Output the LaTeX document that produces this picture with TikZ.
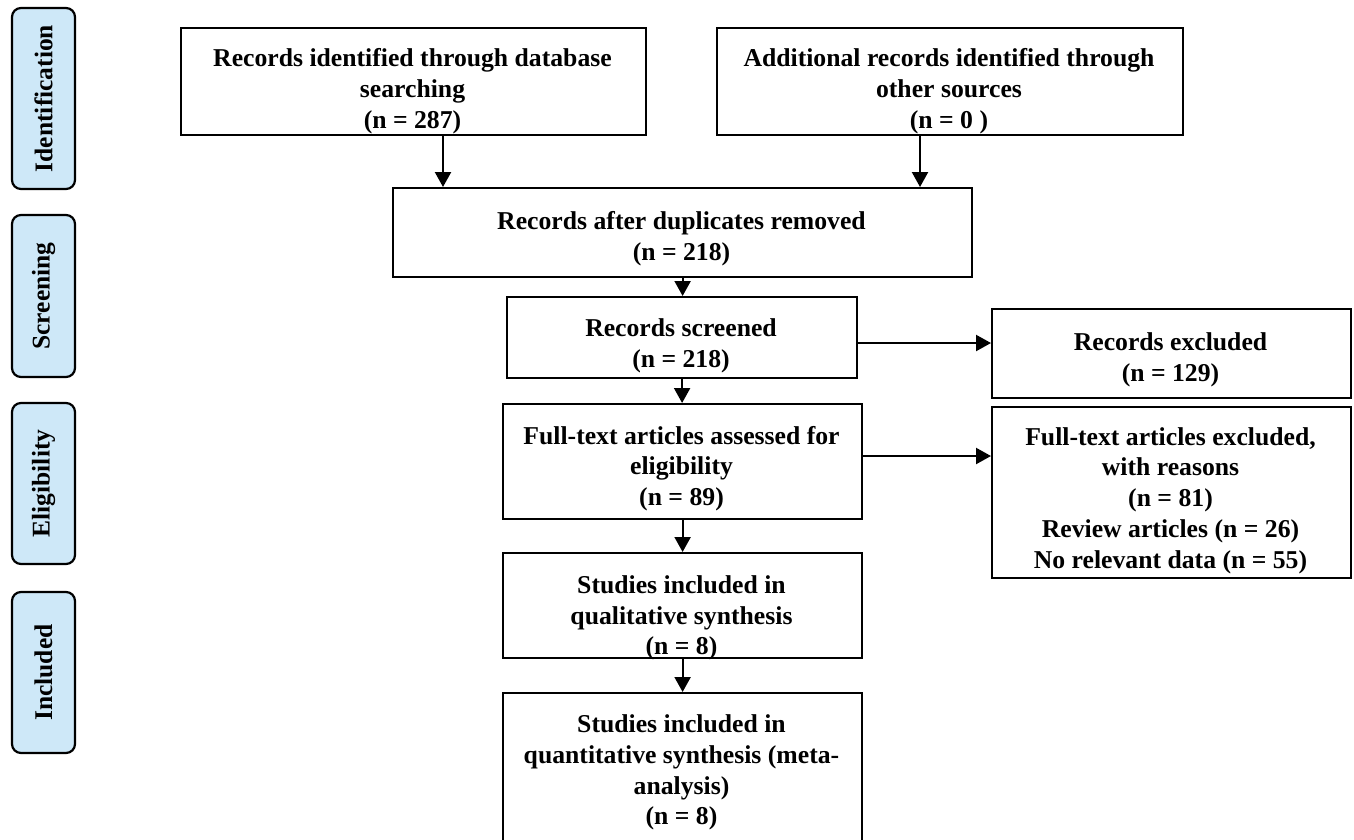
\documentclass[tikz,border=0pt]{standalone}
\usepackage{fontspec}
\setmainfont{Liberation Serif}
\usetikzlibrary{arrows.meta}
\definecolor{stagefill}{RGB}{206,232,248}
\begin{document}
\begin{tikzpicture}[x=1pt,y=-1pt,
  box/.style={draw,line width=2.2pt,inner sep=0pt,anchor=north west},
  txt/.style={font=\bfseries\fontsize{25.7}{30.8}\selectfont,align=center,inner sep=0pt},
  stage/.style={draw,line width=2.2pt,fill=stagefill,rounded corners=9pt,rotate=90,
    inner sep=0pt,minimum height=63pt,font=\bfseries\fontsize{25.5}{30}\selectfont},
  arr/.style={-{Triangle[width=16pt,length=15pt]},line width=2.2pt}]
\clip (0,0) rectangle (1354,839);
\fill[white] (0,0) rectangle (1354,839);
% stage labels
\node[stage,minimum width=181pt] (s1) at (43.5,98.5) {Identification};
\node[stage,minimum width=162pt] (s2) at (43.5,296) {Screening};
\node[stage,minimum width=161pt] (s3) at (43.5,483.5) {Eligibility};
\node[stage,minimum width=161pt] (s4) at (43.5,672.5) {Included};
% boxes
\node[box,minimum width=465pt,minimum height=107pt] (b1) at (180,27) {};
\node[box,minimum width=466pt,minimum height=107pt] (b2) at (716,27) {};
\node[box,minimum width=579pt,minimum height=89pt] (b3) at (392,187) {};
\node[box,minimum width=350pt,minimum height=81pt] (b4) at (506,296) {};
\node[box,minimum width=359pt,minimum height=89pt] (b5) at (991,308) {};
\node[box,minimum width=359pt,minimum height=115pt] (b6) at (502,403) {};
\node[box,minimum width=359pt,minimum height=171pt] (b7) at (991,406) {};
\node[box,minimum width=359pt,minimum height=105pt] (b8) at (502,552) {};
\node[box,minimum width=359pt,minimum height=170pt] (b9) at (502,692) {};
% texts
\node[txt] (t1) at (412.5,91) {Records identified through database\\searching\\(n = 287)};
\node[txt] (t2) at (949,91) {Additional records identified through\\other sources\\(n = 0 )};
\node[txt] (t3) at (681.5,239) {Records after duplicates removed\\(n = 218)};
\node[txt] (t4) at (681,345.5) {Records screened\\(n = 218)};
\node[txt] (t5) at (1170.5,359.5) {Records excluded\\(n = 129)};
\node[txt] (t6) at (681.5,468.5) {Full-text articles assessed for\\eligibility\\(n = 89)};
\node[txt] (t7) at (1170.5,500.5) {Full-text articles excluded,\\with reasons\\(n = 81)\\Review articles (n = 26)\\No relevant data (n = 55)};
\node[txt] (t8) at (681.5,618) {Studies included in\\qualitative synthesis\\(n = 8)};
\node[txt] (t9) at (681.5,772.5) {Studies included in\\quantitative synthesis (meta-\\analysis)\\(n = 8)};
% connectors
\coordinate (x1) at (443,0);
\coordinate (x2) at (920,0);
\coordinate (y45) at (0,343);
\coordinate (y67) at (0,456);
\draw[arr] (b1.south -| x1) -- (b3.north -| x1);
\draw[arr] (b2.south -| x2) -- (b3.north -| x2);
\draw[arr] (b3.south) -- (b3.south |- b4.north);
\draw[arr] (b4.east |- y45) -- (b5.west |- y45);
\draw[arr] (b4.south) -- (b4.south |- b6.north);
\draw[arr] (b6.east |- y67) -- (b7.west |- y67);
\draw[arr] (b6.south) -- (b8.north);
\draw[arr] (b8.south) -- (b9.north);
\end{tikzpicture}
\end{document}
